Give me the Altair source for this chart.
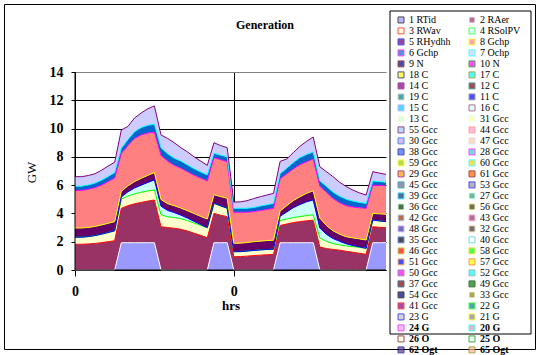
import altair as alt
import pandas as pd

hours = [0, 1, 2, 3, 4, 5, 6, 7, 8, 9, 10, 11, 12, 13, 14, 15, 16, 17, 18, 19, 20, 21, 22, 23,
         24, 25, 26, 27, 28, 29, 30, 31, 32, 33, 34, 35, 36, 37, 38, 39, 40, 41, 42, 43, 44, 45, 46, 47]
hour_ticks = [0, 24]
gw_ticks = [0, 2, 4, 6, 8, 10, 12, 14]

series_names = ["1 RTid", "2 RAer", "3 RWav", "4 RSolPV", "5 RHydhh", "8 Gchp", "6 Gchp", "7 Ochp",
                "9 N", "10 N", "18 C", "17 C", "14 C", "12 C", "19 C", "11 C", "15 C", "16 C", "13 C",
                "31 Gcc", "55 Gcc", "44 Gcc", "30 Gcc", "47 Gcc", "38 Gcc", "28 Gcc", "59 Gcc", "60 Gcc",
                "29 Gcc", "61 Gcc", "45 Gcc", "53 Gcc", "39 Gcc", "27 Gcc", "36 Gcc", "56 Gcc", "42 Gcc",
                "43 Gcc", "48 Gcc", "32 Gcc", "35 Gcc", "40 Gcc", "46 Gcc", "58 Gcc", "51 Gcc", "57 Gcc",
                "50 Gcc", "52 Gcc", "37 Gcc", "49 Gcc", "54 Gcc", "33 Gcc", "41 Gcc", "22 G", "23 G",
                "21 G", "24 G", "20 G", "26 O", "25 O", "62 Ogt", "65 Ogt", "63 Ogt"]
bold_names = ["24 G", "20 G", "26 O", "25 O", "62 Ogt", "65 Ogt", "63 Ogt"]

fill_colors = ["#9999FF", "#993366", "#FFFFCC", "#CCFFFF", "#660066", "#FF8080", "#0066CC", "#CCCCFF",
               "#000080", "#FF00FF", "#FFFF00", "#00FFFF", "#800080", "#800000", "#008080", "#0000FF",
               "#00CCFF", "#CCFFFF", "#CCFFCC", "#FFFF99", "#99CCFF", "#FF99CC", "#CC99FF", "#FFCC99",
               "#3366FF", "#33CCCC", "#99CC00", "#FFCC00", "#FF9900", "#FF6600", "#666699", "#969696",
               "#003366", "#339966", "#003300", "#333300", "#993300", "#993366", "#333399", "#333333",
               "#000000", "#FFFFFF", "#FF0000", "#00FF00", "#0000FF", "#FFFF00", "#FF00FF", "#00FFFF",
               "#800000", "#008000", "#000080", "#808000", "#800080", "#008080", "#C0C0C0", "#808080",
               "#E6A0E6", "#C89BB4", "#FFFFE0", "#E0FFF0", "#5A3C8C", "#FFB4A0", "#6E9BE6"]
border_colors = ["#000000", "#FFFFFF", "#FF0000", "#00FF00", "#0000FF", "#FFFF00", "#FF00FF", "#00FFFF",
                 "#800000", "#008000", "#000080", "#808000", "#800080", "#008080", "#C0C0C0", "#808080",
                 "#9999FF", "#993366", "#FFFFCC", "#CCFFFF", "#660066", "#FF8080", "#0066CC", "#CCCCFF",
                 "#000080", "#FF00FF", "#FFFF00", "#00FFFF", "#800080", "#800000", "#008080", "#0000FF",
                 "#00CCFF", "#CCFFFF", "#CCFFCC", "#FFFF99", "#99CCFF", "#FF99CC", "#CC99FF", "#FFCC99",
                 "#3366FF", "#33CCCC", "#99CC00", "#FFCC00", "#FF9900", "#FF6600", "#666699", "#969696",
                 "#003366", "#003300", "#000000", "#FFFFFF", "#FF0000", "#00FF00", "#0000FF", "#FFFF00",
                 "#FF00FF", "#00FFFF", "#800000", "#008000", "#000080", "#808000", "#800080"]

# GW per hour for the series that are non-zero
rtid = [0, 0, 0, 0, 0, 0, 0, 1.93, 1.93, 1.93, 1.93, 1.93, 1.93, 0, 0, 0, 0, 0, 0, 0, 0, 1.93, 1.93, 1.93,
        0, 0, 0, 0, 0, 0, 0, 1.93, 1.93, 1.93, 1.93, 1.93, 1.93, 0, 0, 0, 0, 0, 0, 0, 0, 1.93, 1.93, 1.93]
raer = [1.82, 1.82, 1.84, 1.88, 1.93, 2.0, 2.07, 2.43, 2.62, 2.75, 2.85, 2.94, 3.02,
        3.06, 3.0, 2.95, 2.88, 2.75, 2.6, 2.45, 2.28, 2.07, 1.95, 1.84,
        0.94, 0.95, 0.98, 1.02, 1.05, 1.08, 1.1, 1.22, 1.32, 1.42, 1.49, 1.55, 1.59,
        1.62, 1.52, 1.45, 1.4, 1.32, 1.25, 1.18, 1.11, 1.13, 1.09, 1.06]
rwav = [0.5, 0.5, 0.52, 0.55, 0.6, 0.65, 0.7, 0.65, 0.68, 0.7, 0.72, 0.72, 0.72,
        0.85, 0.76, 0.76, 0.75, 0.74, 0.72, 0.7, 0.7, 0.7, 0.65, 0.6,
        0.35, 0.35, 0.36, 0.36, 0.37, 0.37, 0.37, 0.35, 0.35, 0.36, 0.36, 0.37, 0.38,
        0.65, 0.5, 0.42, 0.38, 0.38, 0.4, 0.42, 0.42, 0.47, 0.45, 0.43]
rsolpv = [0, 0, 0, 0, 0, 0, 0, 0.15, 0.3, 0.42, 0.5, 0.6, 0.7,
          0.6, 0.45, 0.35, 0.25, 0.18, 0.12, 0.06, 0.02, 0.02, 0.01, 0,
          0, 0, 0, 0, 0, 0, 0, 0.3, 0.5, 0.7, 0.85, 0.97, 1.05,
          0.7, 0.5, 0.35, 0.25, 0.15, 0.08, 0.03, 0, 0, 0, 0]
rhydhh = [0.65, 0.65, 0.65, 0.65, 0.65, 0.65, 0.65, 0.4, 0.42, 0.45, 0.48, 0.5, 0.52,
          0.47, 0.48, 0.48, 0.5, 0.52, 0.55, 0.58, 0.6, 0.6, 0.65, 0.7,
          0.6, 0.6, 0.6, 0.62, 0.62, 0.63, 0.64, 0.38, 0.45, 0.5, 0.55, 0.6, 0.65,
          0.7, 0.62, 0.55, 0.5, 0.5, 0.54, 0.57, 0.59, 0.47, 0.5, 0.52]
gchp8 = [2.65, 2.66, 2.69, 2.74, 2.82, 2.95, 3.08, 2.69, 2.85, 3.05, 3.07, 2.99, 2.86,
         3.12, 3.01, 2.86, 2.82, 2.76, 2.71, 2.71, 2.7, 2.62, 2.61, 2.59,
         2.19, 2.18, 2.14, 2.12, 2.16, 2.2, 2.25, 2.27, 2.25, 2.24, 2.27, 2.23, 2.25,
         2.25, 2.36, 2.28, 2.22, 2.2, 2.18, 2.2, 2.24, 2.0, 2.01, 2.02]
gchp6 = [0.3, 0.3, 0.31, 0.32, 0.34, 0.36, 0.38, 0.35, 0.42, 0.48, 0.52, 0.55, 0.56,
         0.54, 0.52, 0.5, 0.5, 0.48, 0.46, 0.43, 0.42, 0.31, 0.32, 0.34,
         0.28, 0.28, 0.29, 0.3, 0.32, 0.33, 0.35, 0.35, 0.4, 0.45, 0.5, 0.52, 0.5,
         0.38, 0.42, 0.45, 0.47, 0.45, 0.42, 0.38, 0.35, 0.29, 0.27, 0.24]
ochp7 = [0.68, 0.67, 0.67, 0.66, 0.71, 0.74, 0.74, 1.3, 0.93, 0.97, 1.03, 1.17, 1.29,
         0.91, 1.08, 1.1, 0.95, 0.92, 0.84, 0.77, 0.68, 0.75, 0.68, 0.65,
         0.44, 0.46, 0.53, 0.63, 0.66, 0.69, 0.71, 0.88, 0.65, 0.7, 0.8, 0.93, 1.05,
         1.0, 1.03, 1.1, 0.98, 0.9, 0.78, 0.67, 0.59, 0.66, 0.6, 0.56]

visible = [rtid, raer, rwav, rsolpv, rhydhh, gchp8, gchp6, ochp7]

rows = []
for i, vals in enumerate(visible):
    for h, v in zip(hours, vals):
        rows.append({"hour": h, "series": series_names[i], "order": i, "value": v})
df = pd.DataFrame(rows)

SERIF = "Liberation Serif"
fill_scale = alt.Scale(domain=series_names, range=fill_colors)
stroke_scale = alt.Scale(domain=series_names, range=border_colors)

x_axis = alt.Axis(values=hour_ticks, labelExpr="'' + (datum.value % 24)", title="hrs",
                  grid=True, gridColor="black", gridWidth=1, tickSize=6, tickColor="black",
                  domainColor="black", labelFont=SERIF, labelFontSize=14, labelFontWeight="bold",
                  labelColor="black", labelPadding=8, labelFlush=False, labelOverlap=False,
                  titleFont=SERIF, titleFontSize=13, titleFontWeight="bold", titleColor="black",
                  titleX=155.5, titleY=35, titleBaseline="middle", titleAlign="center")
y_axis = alt.Axis(values=gw_ticks, title="GW", grid=True,
                  gridColor={"condition": {"test": "datum.value === 14", "value": "#808080"}, "value": "black"},
                  gridWidth=1, tickSize=4, tickColor="black", domainColor="black",
                  labelFont=SERIF, labelFontSize=14, labelFontWeight="bold", labelColor="black",
                  labelPadding=8, labelOverlap=False, titleFont=SERIF, titleFontSize=13,
                  titleFontWeight="normal", titleColor="black", titleX=-44, titleY=100,
                  titleAlign="center", titleBaseline="middle")

x_scale = alt.Scale(domain=[0, 47], nice=False, zero=False)
y_scale = alt.Scale(domain=[0, 14], nice=False)
x_enc = alt.X("hour:Q", scale=x_scale, axis=x_axis)

bold_test = "indexof(" + str(bold_names) + ", datum.value) >= 0 ? 'bold' : 'normal'"
legend = alt.Legend(
    title=None, orient="none", legendX=321, legendY=-56, columns=2, direction="horizontal",
    symbolLimit=100, symbolType="square", symbolSize=36, symbolStrokeWidth=1,
    labelFont=SERIF, labelFontSize=10, labelColor="black", labelLimit=200, labelOffset=3,
    clipHeight=7.8, rowPadding=0, columnPadding=16, padding=0,
    labelFontWeight={"expr": bold_test},
)

# hidden layer that carries the legend (fill + border of every series)
legend_df = pd.DataFrame({"series": series_names})
legend_layer = alt.Chart(legend_df).mark_square(size=36, strokeWidth=1, clip=True, filled=True).encode(
    x=alt.value(-1000), y=alt.value(-1000),
    fill=alt.Fill("series:N", scale=fill_scale, legend=legend),
    stroke=alt.Stroke("series:N", scale=stroke_scale, legend=legend),
)

base = alt.Chart(df).transform_stack(
    stack="value", groupby=["hour"], as_=["y0", "y1"],
    sort=[alt.SortField(field="order", order="ascending")]
)

areas = base.mark_area(interpolate="linear").encode(
    x=x_enc,
    y=alt.Y("y1:Q", scale=y_scale, axis=y_axis, stack=False),
    y2="y0:Q",
    fill=alt.Fill("series:N", scale=fill_scale, legend=legend),
)

layers = [legend_layer, areas]
# each series' border drawn along its lower edge (later series over earlier)
for i in range(1, len(visible)):
    name = series_names[i]
    layers.append(
        base.transform_filter(alt.datum.series == name)
        .mark_line(color=border_colors[i], strokeWidth=1, interpolate="linear")
        .encode(x=x_enc, y=alt.Y("y0:Q", scale=y_scale, axis=y_axis))
    )
layers.append(
    base.transform_filter(alt.datum.series == series_names[len(visible) - 1])
    .mark_line(color=border_colors[-1], strokeWidth=1, interpolate="linear")
    .encode(x=x_enc, y=alt.Y("y1:Q", scale=y_scale, axis=y_axis))
)

# axis lines drawn over the areas
origin = pd.DataFrame({"hour": [0], "gw": [0]})
layers.append(alt.Chart(origin).mark_rule(color="black", strokeWidth=1).encode(
    y=alt.Y("gw:Q", scale=y_scale, axis=y_axis)))
layers.append(alt.Chart(origin).mark_rule(color="black", strokeWidth=1).encode(
    x=alt.X("hour:Q", scale=x_scale, axis=x_axis)))

# legend box and outer frame (decoration)
one = pd.DataFrame({"k": [0]})
legend_box = alt.Chart(one).mark_rect(fill="white", stroke="black", strokeWidth=1).encode(
    x=alt.value(315), x2=alt.value(456), y=alt.value(-61), y2=alt.value(262))
frame = alt.Chart(one).mark_rect(filled=False, stroke="black", strokeWidth=1).encode(
    x=alt.value(-70.5), x2=alt.value(460.5), y=alt.value(-67.5), y2=alt.value(277.5))
layers += [legend_box, frame]

chart = alt.layer(*layers).properties(
    width=311, height=198,
    title=alt.TitleParams("Generation", font=SERIF, fontSize=12, fontWeight="bold", color="black",
                          anchor="middle", frame="group", baseline="alphabetic", offset=-37, dx=34.5),
    autosize=alt.AutoSizeParams(type="none"),
    padding={"left": 75, "top": 72, "right": 152, "bottom": 85},
    background="white",
).configure_view(stroke=None)

chart.save("out.html", embed_options={"renderer": "svg", "actions": False})
